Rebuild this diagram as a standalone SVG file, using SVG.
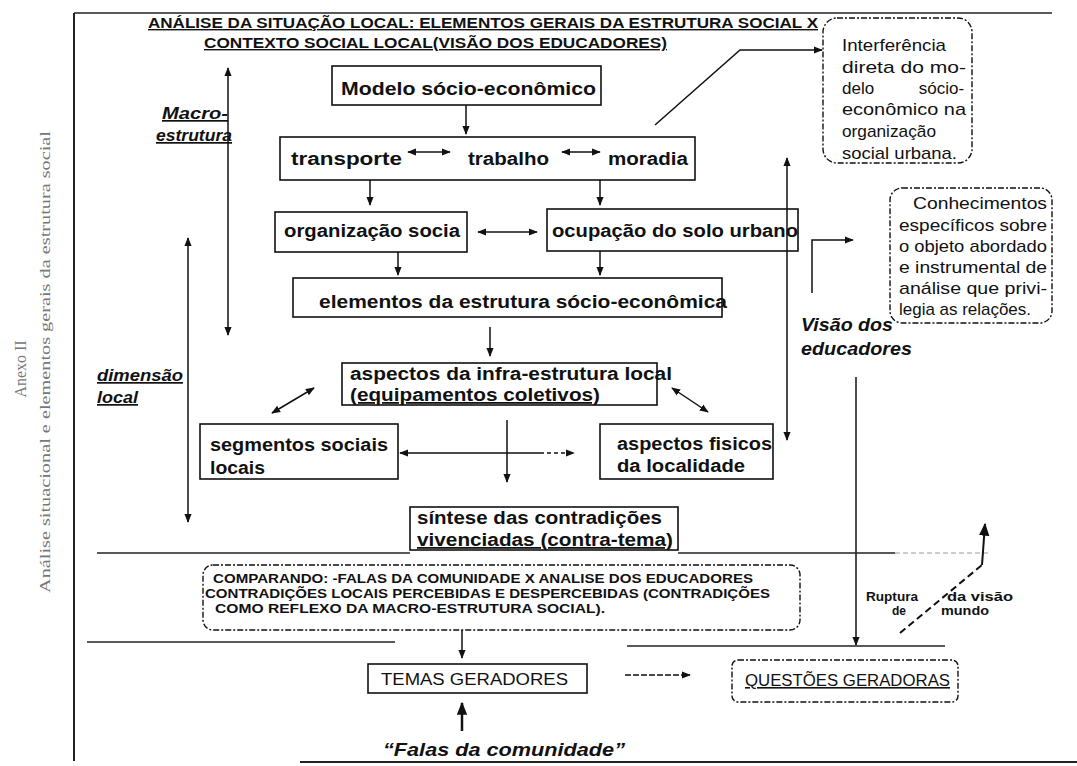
<svg xmlns="http://www.w3.org/2000/svg" width="1077" height="766" viewBox="0 0 1077 766">
<style>
.b{font-family:"Liberation Sans",Arial,sans-serif;font-weight:bold;fill:#111}
.r{font-family:"Liberation Sans",Arial,sans-serif;fill:#111}
.bi{font-family:"Liberation Sans",Arial,sans-serif;font-weight:bold;font-style:italic;fill:#111}
.box{fill:#fff;stroke:#111;stroke-width:1.6}
.rbox{fill:#fff;stroke:#111;stroke-width:1.4;stroke-dasharray:6 2 2 2}
.ln{fill:none;stroke:#111;stroke-width:1.5}
.u{text-decoration:underline}
.s18{font-size:18px}
.s17{font-size:17px}
.s16{font-size:16px}
.s13{font-size:13px}
.s12{font-size:12px}
</style>
<defs>
<marker id="ah" viewBox="0 0 10 10" refX="9" refY="5" markerWidth="9" markerHeight="9" markerUnits="userSpaceOnUse" orient="auto-start-reverse">
<path d="M0,1 L10,5 L0,9 Z" fill="#111"/>
</marker>
<marker id="ahb" viewBox="0 0 10 10" refX="9" refY="5" markerWidth="13" markerHeight="13" markerUnits="userSpaceOnUse" orient="auto-start-reverse">
<path d="M0,1 L10,5 L0,9 Z" fill="#111"/>
</marker>
</defs>
<rect width="1077" height="766" fill="#fff"/>

<g id="frame">
<line x1="74" y1="13" x2="1052" y2="13" stroke="#222" stroke-width="1.5"/>
<line x1="74" y1="13" x2="74" y2="761" stroke="#222" stroke-width="2"/>
<line x1="300" y1="762" x2="1077" y2="762" stroke="#222" stroke-width="2"/>
</g>

<g id="side-labels">
<text transform="translate(26,369) rotate(-90)" text-anchor="middle" font-family="Liberation Serif,serif" style="font-size:16px" fill="#777" textLength="57" lengthAdjust="spacingAndGlyphs">Anexo II</text>
<text transform="translate(50,362) rotate(-90)" text-anchor="middle" font-family="Liberation Serif,serif" style="font-size:15px" fill="#777" textLength="462" lengthAdjust="spacingAndGlyphs">Análise situacional e elementos gerais da estrutura social</text>
</g>

<g id="title">
<text class="b u" x="148" y="28" font-size="14" textLength="670" lengthAdjust="spacingAndGlyphs">ANÁLISE DA SITUAÇÃO LOCAL: ELEMENTOS GERAIS DA ESTRUTURA SOCIAL  X</text>
<text class="b u" x="204" y="48" font-size="14" textLength="463" lengthAdjust="spacingAndGlyphs">CONTEXTO SOCIAL LOCAL(VISÃO DOS EDUCADORES)</text>
</g>

<g id="macro-label">
<text class="bi u s17" x="162" y="119" textLength="66" lengthAdjust="spacingAndGlyphs">Macro-</text>
<text class="bi u s17" x="156" y="141" textLength="76" lengthAdjust="spacingAndGlyphs">estrutura</text>
</g>
<g id="dimensao-label">
<text class="bi u s17" x="97" y="381" textLength="86" lengthAdjust="spacingAndGlyphs">dimensão</text>
<text class="bi u s17" x="97" y="403" textLength="41" lengthAdjust="spacingAndGlyphs">local</text>
</g>

<g id="modelo">
<rect class="box" x="332" y="66" width="269" height="39"/>
<text class="b s18" x="341" y="95" textLength="255" lengthAdjust="spacingAndGlyphs">Modelo sócio-econômico</text>
</g>

<g id="transporte-trabalho-moradia">
<rect class="box" x="280" y="137" width="415" height="43"/>
<text class="b s18" x="291" y="165" textLength="111" lengthAdjust="spacingAndGlyphs">transporte</text>
<text class="b s18" x="468" y="165" textLength="81" lengthAdjust="spacingAndGlyphs">trabalho</text>
<text class="b s18" x="608" y="165" textLength="80" lengthAdjust="spacingAndGlyphs">moradia</text>
</g>

<g id="organizacao">
<rect class="box" x="275" y="212" width="192" height="40"/>
<text class="b s18" x="284" y="237" textLength="176" lengthAdjust="spacingAndGlyphs">organização socia</text>
</g>

<g id="ocupacao">
<rect class="box" x="547" y="209" width="251" height="42"/>
<text class="b s18" x="552" y="237" textLength="246" lengthAdjust="spacingAndGlyphs">ocupação do solo urbano</text>
</g>

<g id="elementos">
<rect class="box" x="293" y="278" width="429" height="39"/>
<text class="b s18" x="319" y="308" textLength="408" lengthAdjust="spacingAndGlyphs">elementos da estrutura sócio-econômica</text>
</g>

<g id="infra">
<rect class="box" x="342" y="363" width="315" height="42"/>
<text class="b s18" x="350" y="380" textLength="322" lengthAdjust="spacingAndGlyphs">aspectos da infra-estrutura local</text>
<text class="b u s18" x="350" y="401" textLength="250" lengthAdjust="spacingAndGlyphs">(equipamentos coletivos)</text>
</g>

<g id="segmentos">
<rect class="box" x="200" y="424" width="198" height="55"/>
<text class="b s18" x="210" y="451" textLength="178" lengthAdjust="spacingAndGlyphs">segmentos sociais</text>
<text class="b s18" x="210" y="474" textLength="55" lengthAdjust="spacingAndGlyphs">locais</text>
</g>

<g id="fisicos">
<rect class="box" x="600" y="424" width="173" height="55"/>
<text class="b s18" x="617" y="450" textLength="155" lengthAdjust="spacingAndGlyphs">aspectos fisicos</text>
<text class="b s18" x="617" y="472" textLength="128" lengthAdjust="spacingAndGlyphs">da localidade</text>
</g>

<g id="sintese">
<rect class="box" x="410" y="507" width="268" height="43"/>
<text class="b s18" x="417" y="524" textLength="245" lengthAdjust="spacingAndGlyphs">síntese das contradições</text>
<text class="b u s18" x="417" y="546" textLength="256" lengthAdjust="spacingAndGlyphs">vivenciadas (contra-tema)</text>
</g>

<g id="interferencia">
<rect class="rbox" x="823" y="18" width="149" height="145" rx="14"/>
<text class="r s17" x="842" y="51" textLength="104" lengthAdjust="spacingAndGlyphs">Interferência</text>
<text class="r s17" x="842" y="73" textLength="124" lengthAdjust="spacingAndGlyphs">direta do mo-</text>
<text class="r s17" x="842" y="94" style="word-spacing:40px">delo sócio-</text>
<text class="r s17" x="842" y="115" textLength="124" lengthAdjust="spacingAndGlyphs">econômico na</text>
<text class="r s17" x="842" y="137" textLength="94" lengthAdjust="spacingAndGlyphs">organização</text>
<text class="r s17" x="842" y="159" textLength="115" lengthAdjust="spacingAndGlyphs">social urbana.</text>
</g>

<g id="conhecimentos">
<rect class="rbox" x="890" y="188" width="162" height="135" rx="12"/>
<text class="r s17" x="913" y="209" textLength="134" lengthAdjust="spacingAndGlyphs">Conhecimentos</text>
<text class="r s17" x="899" y="231" textLength="148" lengthAdjust="spacingAndGlyphs">específicos sobre</text>
<text class="r s17" x="899" y="252" textLength="148" lengthAdjust="spacingAndGlyphs">o objeto abordado</text>
<text class="r s17" x="899" y="273" textLength="148" lengthAdjust="spacingAndGlyphs">e instrumental de</text>
<text class="r s17" x="899" y="294" textLength="148" lengthAdjust="spacingAndGlyphs">análise que privi-</text>
<text class="r s17" x="899" y="315" textLength="132" lengthAdjust="spacingAndGlyphs">legia as relações.</text>
</g>

<g id="visao">
<text class="bi s18" x="801" y="331" textLength="92" lengthAdjust="spacingAndGlyphs">Visão dos</text>
<text class="bi s18" x="801" y="355" textLength="111" lengthAdjust="spacingAndGlyphs">educadores</text>
</g>

<g id="ruptura">
<text class="b s12" x="866" y="601" textLength="52" lengthAdjust="spacingAndGlyphs">Ruptura</text>
<text class="b s12" x="892" y="615" textLength="14" lengthAdjust="spacingAndGlyphs">de</text>
<text class="b s12" x="947" y="601" textLength="66" lengthAdjust="spacingAndGlyphs">da visão</text>
<text class="b s12" x="941" y="615" textLength="48" lengthAdjust="spacingAndGlyphs">mundo</text>
</g>

<g id="comparando">
<rect class="rbox" x="203" y="565" width="597" height="65" rx="10"/>
<text class="b s13" x="213" y="583" textLength="540" lengthAdjust="spacingAndGlyphs">COMPARANDO: -FALAS DA COMUNIDADE X ANALISE DOS EDUCADORES</text>
<text class="b s13" x="205" y="598" textLength="565" lengthAdjust="spacingAndGlyphs">CONTRADIÇÕES LOCAIS PERCEBIDAS E DESPERCEBIDAS (CONTRADIÇÕES</text>
<text class="b s13" x="215" y="613" textLength="390" lengthAdjust="spacingAndGlyphs">COMO REFLEXO DA MACRO-ESTRUTURA SOCIAL).</text>
</g>

<g id="temas">
<rect class="box" x="368" y="664" width="219" height="29" stroke-width="1.3"/>
<text class="r s16" x="381" y="685" textLength="187" lengthAdjust="spacingAndGlyphs">TEMAS GERADORES</text>
</g>

<g id="questoes">
<rect class="rbox" x="732" y="660" width="226" height="42" rx="6"/>
<text class="r u s16" x="745" y="686" textLength="205" lengthAdjust="spacingAndGlyphs">QUESTÕES GERADORAS</text>
</g>

<g id="falas">
<text class="bi" x="383" y="756" style="font-size:19px" textLength="242" lengthAdjust="spacingAndGlyphs">“Falas da comunidade”</text>
</g>

<g id="connectors">
<line class="ln" x1="228" y1="68" x2="228" y2="335" marker-start="url(#ah)" marker-end="url(#ah)"/>
<line class="ln" x1="188" y1="238" x2="188" y2="522" marker-start="url(#ah)" marker-end="url(#ah)"/>
<line class="ln" x1="787" y1="158" x2="787" y2="440" marker-start="url(#ah)" marker-end="url(#ah)"/>
<line class="ln" x1="466" y1="105" x2="466" y2="134" marker-end="url(#ah)"/>
<line class="ln" x1="408" y1="152" x2="450" y2="152" marker-start="url(#ah)" marker-end="url(#ah)"/>
<line class="ln" x1="562" y1="152" x2="600" y2="152" marker-start="url(#ah)" marker-end="url(#ah)"/>
<line class="ln" x1="370" y1="180" x2="370" y2="205" marker-end="url(#ah)"/>
<line class="ln" x1="600" y1="180" x2="600" y2="205" marker-end="url(#ah)"/>
<line class="ln" x1="478" y1="232" x2="537" y2="232" marker-start="url(#ah)" marker-end="url(#ah)"/>
<line class="ln" x1="398" y1="252" x2="398" y2="275" marker-end="url(#ah)"/>
<line class="ln" x1="600" y1="251" x2="600" y2="275" marker-end="url(#ah)"/>
<line class="ln" x1="490" y1="327" x2="490" y2="356" marker-end="url(#ah)"/>
<line class="ln" x1="272" y1="413" x2="314" y2="388" marker-start="url(#ah)" marker-end="url(#ah)"/>
<line class="ln" x1="672" y1="388" x2="708" y2="412" marker-start="url(#ah)" marker-end="url(#ah)"/>
<line class="ln" x1="400" y1="453" x2="540" y2="453" marker-start="url(#ah)"/>
<line class="ln" x1="540" y1="453" x2="574" y2="453" stroke-dasharray="4 3" marker-end="url(#ah)"/>
<line class="ln" x1="507" y1="420" x2="507" y2="482" marker-end="url(#ah)"/>
<polyline class="ln" points="655,125 740,50 822,50" marker-end="url(#ah)"/>
<polyline class="ln" points="812,293 812,240 853,240" marker-end="url(#ah)"/>
<line class="ln" x1="856" y1="377" x2="856" y2="645" marker-end="url(#ah)"/>
<line x1="97" y1="553" x2="410" y2="553" stroke="#222" stroke-width="1.5"/>
<line x1="678" y1="553" x2="895" y2="553" stroke="#222" stroke-width="1.5"/>
<line x1="895" y1="553" x2="990" y2="553" stroke="#999" stroke-width="1.2" stroke-dasharray="5 3"/>
<line x1="87" y1="642" x2="395" y2="642" stroke="#222" stroke-width="1.5"/>
<line x1="627" y1="646" x2="945" y2="646" stroke="#222" stroke-width="1.5"/>
<polyline points="900,633 982,565" fill="none" stroke="#111" stroke-width="2" stroke-dasharray="7 4"/>
<polyline points="982,565 985,524" fill="none" stroke="#111" stroke-width="2" marker-end="url(#ahb)"/>
<line class="ln" x1="462" y1="630" x2="462" y2="658" marker-end="url(#ah)"/>
<line class="ln" x1="625" y1="675" x2="690" y2="675" stroke-dasharray="6 2" marker-end="url(#ah)"/>
<line x1="462" y1="731" x2="462" y2="703" stroke="#111" stroke-width="2.5" marker-end="url(#ahb)"/>
</g>
</svg>
